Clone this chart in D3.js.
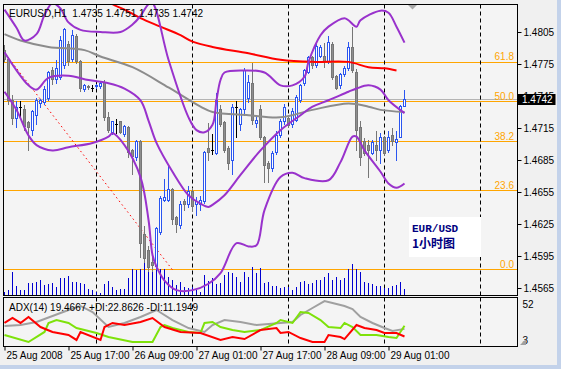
<!DOCTYPE html>
<html>
<head>
<meta charset="utf-8">
<script src="https://cdn.jsdelivr.net/npm/d3@7"></script>
<style>
html, body { margin: 0; padding: 0; background: #f0f0f0; }
svg { display: block; font-family: "Liberation Sans", Arial, sans-serif; }
</style>
</head>
<body>
<svg id="chart" width="561" height="369"></svg>
<script>
// EURUSD H1, 25-29 Aug 2008
const titleText = 'EURUSD,H1  1.4735 1.4751 1.4735 1.4742'
const adxText = 'ADX(14) 19.4667 +DI:22.8626 -DI:11.1949'
const startTime = new Date(2008, 7, 25, 1)

// [open, high, low, close] per hourly bar
const candles = [
    [1.4788, 1.4793, 1.4777, 1.4779], [1.4779, 1.4782, 1.4737, 1.4741], [1.4741, 1.4746, 1.4718, 1.4724],
    [1.4724, 1.4741, 1.4715, 1.4734], [1.4734, 1.4741, 1.4725, 1.4734], [1.4732, 1.4737, 1.4713, 1.4716],
    [1.4720, 1.4722, 1.4694, 1.4715], [1.4713, 1.4732, 1.4708, 1.4730], [1.4727, 1.4744, 1.4718, 1.4741],
    [1.4738, 1.4743, 1.4734, 1.4741], [1.4739, 1.4755, 1.4737, 1.4751], [1.4743, 1.4769, 1.4741, 1.4767],
    [1.4769, 1.4773, 1.4756, 1.4760], [1.4760, 1.4779, 1.4757, 1.4771], [1.4762, 1.4802, 1.4760, 1.4797],
    [1.4774, 1.4809, 1.4771, 1.4807], [1.4793, 1.4797, 1.4774, 1.4777], [1.4779, 1.4807, 1.4777, 1.4802],
    [1.4801, 1.4804, 1.4775, 1.4777], [1.4777, 1.4779, 1.4749, 1.4752], [1.4751, 1.4757, 1.4749, 1.4755],
    [1.4754, 1.4756, 1.4751, 1.4753], [1.4752, 1.4756, 1.4749, 1.4752], [1.4754, 1.4757, 1.4752, 1.4755],
    [1.4754, 1.4759, 1.4752, 1.4757], [1.4758, 1.4760, 1.4722, 1.4725], [1.4725, 1.4730, 1.4711, 1.4713],
    [1.4711, 1.4722, 1.4709, 1.4721], [1.4718, 1.4724, 1.4710, 1.4718], [1.4721, 1.4722, 1.4710, 1.4711],
    [1.4709, 1.4718, 1.4707, 1.4716], [1.4715, 1.4717, 1.4687, 1.4692], [1.4694, 1.4696, 1.4671, 1.4688],
    [1.4687, 1.4704, 1.4685, 1.4702], [1.4702, 1.4704, 1.4594, 1.4607], [1.4615, 1.4624, 1.4589, 1.4593],
    [1.4600, 1.4605, 1.4580, 1.4584], [1.4589, 1.4596, 1.4580, 1.4586], [1.4585, 1.4623, 1.4582, 1.4621],
    [1.4617, 1.4652, 1.4615, 1.4649], [1.4647, 1.4668, 1.4646, 1.4650], [1.4647, 1.4680, 1.4646, 1.4657],
    [1.4657, 1.4659, 1.4625, 1.4629], [1.4631, 1.4633, 1.4617, 1.4625], [1.4624, 1.4647, 1.4621, 1.4643],
    [1.4646, 1.4649, 1.4638, 1.4643], [1.4643, 1.4661, 1.4640, 1.4655], [1.4655, 1.4659, 1.4638, 1.4641],
    [1.4643, 1.4651, 1.4633, 1.4646], [1.4643, 1.4652, 1.4638, 1.4647], [1.4646, 1.4694, 1.4644, 1.4692],
    [1.4696, 1.4720, 1.4685, 1.4692], [1.4694, 1.4710, 1.4690, 1.4694], [1.4691, 1.4748, 1.4690, 1.4741],
    [1.4732, 1.4737, 1.4716, 1.4718], [1.4720, 1.4722, 1.4692, 1.4694], [1.4696, 1.4699, 1.4676, 1.4682],
    [1.4685, 1.4738, 1.4671, 1.4734], [1.4734, 1.4741, 1.4706, 1.4734], [1.4718, 1.4734, 1.4713, 1.4732],
    [1.4732, 1.4772, 1.4727, 1.4769], [1.4743, 1.4765, 1.4739, 1.4758], [1.4757, 1.4776, 1.4718, 1.4722],
    [1.4719, 1.4727, 1.4715, 1.4722], [1.4732, 1.4737, 1.4704, 1.4706], [1.4706, 1.4708, 1.4664, 1.4680],
    [1.4682, 1.4685, 1.4664, 1.4677], [1.4677, 1.4694, 1.4674, 1.4691], [1.4692, 1.4713, 1.4690, 1.4708],
    [1.4708, 1.4724, 1.4706, 1.4721], [1.4721, 1.4738, 1.4718, 1.4734], [1.4724, 1.4727, 1.4715, 1.4717],
    [1.4718, 1.4734, 1.4715, 1.4730], [1.4722, 1.4746, 1.4721, 1.4744], [1.4741, 1.4757, 1.4739, 1.4755],
    [1.4757, 1.4771, 1.4755, 1.4769], [1.4767, 1.4783, 1.4766, 1.4781], [1.4781, 1.4783, 1.4771, 1.4774],
    [1.4774, 1.4794, 1.4772, 1.4791], [1.4782, 1.4793, 1.4781, 1.4790], [1.4782, 1.4795, 1.4772, 1.4777],
    [1.4777, 1.4802, 1.4775, 1.4795], [1.4793, 1.4796, 1.4760, 1.4762], [1.4763, 1.4765, 1.4751, 1.4752],
    [1.4755, 1.4767, 1.4752, 1.4765], [1.4765, 1.4774, 1.4763, 1.4771], [1.4771, 1.4796, 1.4769, 1.4790],
    [1.4790, 1.4810, 1.4767, 1.4769], [1.4767, 1.4771, 1.4694, 1.4713], [1.4715, 1.4722, 1.4680, 1.4687],
    [1.4702, 1.4706, 1.4689, 1.4691], [1.4699, 1.4704, 1.4669, 1.4694], [1.4691, 1.4704, 1.4690, 1.4701],
    [1.4699, 1.4713, 1.4685, 1.4694], [1.4694, 1.4711, 1.4682, 1.4706], [1.4706, 1.4708, 1.4689, 1.4691],
    [1.4694, 1.4713, 1.4692, 1.4706], [1.4708, 1.4715, 1.4699, 1.4702], [1.4701, 1.4713, 1.4685, 1.4704],
    [1.4706, 1.4737, 1.4706, 1.4735], [1.4735, 1.4751, 1.4735, 1.4742]
]

// tick volume per bar
const volumes = [
    150, 250, 1150, 450, 250, 250, 600, 600, 650, 750,
    500, 550, 600, 400, 850, 850, 950, 650, 650, 600,
    550, 300, 250, 150, 100, 550, 700, 400, 250, 300,
    300, 850, 1300, 1250, 1300, 1800, 1150, 1250, 1300, 1300,
    1300, 900, 750, 500, 650, 400, 350, 400, 250, 150,
    1000, 700, 850, 550, 600, 1000, 1150, 1100, 900, 650,
    1150, 900, 1400, 1100, 1350, 600, 650, 450, 450, 350,
    400, 400, 250, 400, 650, 700, 550, 600, 750, 750,
    900, 1100, 750, 900, 750, 850, 1300, 1550, 1300, 1150,
    650, 600, 550, 450, 450, 350, 350, 450, 500, 650, 300
]

// indicator lines, [bar, value] read at their turning points
const bbUpper = [[0, 1.4826], [3, 1.4809], [5, 1.4797], [8, 1.4803], [10, 1.4821], [12, 1.4832], [14, 1.4827],
    [16, 1.4814], [19, 1.4807], [24, 1.4805], [29, 1.4805], [32, 1.4812], [34, 1.4820], [36, 1.4831], [37, 1.4832],
    [41, 1.4779], [46, 1.4725], [48, 1.4713], [50, 1.4711], [52, 1.4718], [53, 1.4741], [54, 1.4760], [55, 1.4767],
    [60, 1.4769], [65, 1.4767], [69, 1.4755], [72, 1.4755], [75, 1.4763], [76, 1.4777], [79, 1.4802], [81, 1.4810],
    [85, 1.4818], [86, 1.4816], [88, 1.4810], [89, 1.4816], [94, 1.4825], [96, 1.4823], [98, 1.4810], [100, 1.4795]]
const bbMiddle = [[0, 1.4786], [3, 1.4769], [6, 1.4755], [8, 1.4751], [11, 1.4762], [16, 1.4764], [21, 1.4760],
    [26, 1.4757], [30, 1.4752], [34, 1.4741], [36, 1.4722], [38, 1.4701], [42, 1.4674], [46, 1.4652], [49, 1.4644],
    [51, 1.4641], [52, 1.4643], [55, 1.4652], [59, 1.4671], [64, 1.4694], [69, 1.4713], [74, 1.4727], [77, 1.4735],
    [81, 1.4741], [86, 1.4749], [88, 1.4752], [91, 1.4755], [94, 1.4751], [96, 1.4741], [100, 1.4729]]
const bbLower = [[0, 1.4749], [3, 1.4732], [6, 1.4708], [8, 1.4699], [12, 1.4694], [16, 1.4697], [22, 1.4701],
    [26, 1.4707], [27, 1.4710], [30, 1.4699], [34, 1.4669], [36, 1.4629], [37, 1.4596], [38, 1.4585], [40, 1.4572],
    [43, 1.4563], [47, 1.4563], [51, 1.4569], [54, 1.4579], [58, 1.4607], [61, 1.4604], [63, 1.4605], [65, 1.4638],
    [69, 1.4669], [72, 1.4673], [75, 1.4668], [81, 1.4666], [84, 1.4683], [87, 1.4707], [88, 1.4707], [90, 1.4694],
    [94, 1.4674], [96, 1.4663], [98, 1.4659], [100, 1.4663]]
const maGray = [[0, 1.4803], [4, 1.4797], [11, 1.4791], [20, 1.4788], [24, 1.4782], [32, 1.4772], [41, 1.4753],
    [49, 1.4735], [52, 1.4730], [61, 1.4727], [69, 1.4725], [77, 1.4732], [86, 1.4738], [91, 1.4735], [94, 1.4732],
    [100, 1.4730]]
const maRed = [[24, 1.4840], [27, 1.4831], [30, 1.4826], [34, 1.4818], [39, 1.4810], [44, 1.4802], [47, 1.4796],
    [52, 1.4791], [61, 1.4785], [69, 1.4779], [77, 1.4777], [86, 1.4777], [91, 1.4772], [95, 1.4771], [98, 1.4769]]

const adxLine = [[0, 22.6], [4, 23.7], [8, 27.0], [12, 33.5], [16, 40.0], [19, 44.4], [22, 37.8], [26, 21.5],
    [30, 25.9], [34, 32.4], [38, 40.0], [42, 29.1], [46, 20.4], [50, 16.1], [52, 23.7], [55, 29.1], [59, 27.0],
    [63, 23.7], [69, 25.9], [72, 27.0], [74, 34.6], [77, 42.2], [80, 49.8], [82, 47.6], [85, 44.4], [87, 41.1],
    [89, 32.4], [92, 25.9], [95, 20.4], [97, 17.2], [100, 19.4667]]
const plusDI = [[0, 12.8], [6, 5.2], [10, 16.1], [11, 25.9], [13, 29.1], [16, 25.9], [18, 20.4], [23, 15.0],
    [26, 10.6], [32, 5.2], [37, 5.2], [39, 21.5], [40, 23.7], [42, 20.4], [46, 16.1], [49, 15.0], [50, 25.9],
    [52, 27.0], [54, 21.5], [57, 18.2], [60, 16.1], [64, 18.2], [68, 25.9], [69, 29.1], [72, 25.9], [74, 37.8],
    [76, 36.8], [79, 29.1], [81, 21.5], [84, 20.4], [85, 25.9], [87, 21.5], [89, 12.8], [93, 12.8], [96, 10.6],
    [98, 9.5], [100, 22.8626]]
const minusDI = [[0, 25.9], [2, 31.3], [4, 25.9], [6, 32.4], [9, 21.5], [12, 16.1], [16, 12.8], [18, 7.4],
    [19, 16.1], [24, 7.4], [25, 21.5], [27, 25.9], [30, 23.7], [34, 27.0], [37, 31.3], [40, 21.5], [44, 16.1],
    [49, 15.0], [54, 7.4], [57, 10.6], [60, 8.4], [64, 18.2], [68, 20.4], [69, 15.0], [71, 16.1], [74, 9.5],
    [77, 5.2], [80, 5.2], [81, 12.8], [84, 10.6], [85, 8.4], [88, 23.7], [90, 20.4], [93, 18.2], [95, 15.0],
    [98, 15.0], [100, 11.1949]]

// fibonacci retracement anchors and levels
const fibAnchors = [[-23, 1.4897], [42, 1.4582]]
const fibLevels = [0, 23.6, 38.2, 50.0, 61.8]
const bidPrice = 1.4742

const priceTicks = [1.4805, 1.4775, 1.4745, 1.4715, 1.4685, 1.4655, 1.4625, 1.4595, 1.4565]
const timeTickBars = [0, 16, 32, 48, 64, 80, 96]
const separatorBars = [23, 47, 71, 95, 119]
const adxLabels = [52, 3]
const noteLines = ['EUR/USD', '1小时图']

// ---------------------------------------------------------------
const svg = d3.select('#chart')
const main = { left: 3.5, top: 4.5, right: 517.5, bottom: 295.5 }
const sub = { left: 3.5, top: 297.5, right: 517.5, bottom: 346.5 }
const labelFont = '"Liberation Sans", Arial, sans-serif'

const barTime = i => new Date(startTime.getTime() + i * 36e5)
const x = d3.scaleTime()
    .domain([barTime(0), barTime(128)])
    .range([4.5, 4.5 + 128 * 4])
const bx = i => x(barTime(i))
const y = d3.scaleLinear().domain([1.4565, 1.4805]).range([288, 32])
const yVol = d3.scaleLinear().domain([0, 1800]).range([295, 259])
const yAdx = d3.scaleLinear().domain([3, 52]).range([344, 299])
const snap = v => Math.round(v - 0.5) + 0.5

// window background and frame
svg.append('rect').attr('width', 561).attr('height', 369).attr('fill', '#f0f0f0')
svg.append('rect').attr('x', 557).attr('width', 4).attr('height', 369).attr('fill', '#c3d2ea')
svg.append('rect').attr('y', 365).attr('width', 561).attr('height', 4).attr('fill', '#c3d2ea')

const defs = svg.append('defs')
defs.append('clipPath').attr('id', 'clipMain').append('rect')
    .attr('x', main.left + 0.5).attr('y', main.top + 0.5)
    .attr('width', main.right - main.left - 1).attr('height', main.bottom - main.top - 1)
defs.append('clipPath').attr('id', 'clipSub').append('rect')
    .attr('x', sub.left + 0.5).attr('y', sub.top + 0.5)
    .attr('width', sub.right - sub.left - 1).attr('height', sub.bottom - sub.top - 1)

for (const p of [main, sub]) {
    svg.append('rect')
        .attr('x', p.left).attr('y', p.top)
        .attr('width', p.right - p.left).attr('height', p.bottom - p.top)
        .attr('fill', '#f4f4f4')
}

const gMain = svg.append('g').attr('clip-path', 'url(#clipMain)')
const gSub = svg.append('g').attr('clip-path', 'url(#clipSub)')

// fibo levels
const fibHigh = fibAnchors[0][1], fibLow = fibAnchors[1][1]
const fibPrice = lvl => fibLow + (fibHigh - fibLow) * lvl / 100
gMain.selectAll('line.fib')
    .data(fibLevels)
    .enter()
    .append('line')
    .attr('class', 'fib')
    .attr('x1', main.left).attr('x2', main.right)
    .attr('y1', d => snap(y(fibPrice(d)))).attr('y2', d => snap(y(fibPrice(d))))
    .attr('stroke', '#ffa500')

// bid line
gMain.append('line')
    .attr('x1', main.left).attr('x2', main.right)
    .attr('y1', snap(y(bidPrice))).attr('y2', snap(y(bidPrice)))
    .attr('stroke', '#b4b4b4')

// day separators in both panes
for (const [g, p] of [[gMain, main], [gSub, sub]]) {
    g.selectAll('line.sep')
        .data(separatorBars)
        .enter()
        .append('line')
        .attr('class', 'sep')
        .attr('x1', d => bx(d)).attr('x2', d => bx(d))
        .attr('y1', p.top).attr('y2', p.bottom)
        .attr('stroke', '#000')
        .attr('stroke-dasharray', '4,3')
}

// volumes
gMain.selectAll('line.vol')
    .data(volumes)
    .enter()
    .append('line')
    .attr('class', 'vol')
    .attr('x1', (d, i) => bx(i)).attr('x2', (d, i) => bx(i))
    .attr('y1', yVol(0)).attr('y2', d => yVol(d))
    .attr('stroke', '#0000d0')

// fibo trend line
gMain.append('line')
    .attr('x1', bx(fibAnchors[0][0])).attr('y1', y(fibAnchors[0][1]))
    .attr('x2', bx(fibAnchors[1][0])).attr('y2', y(fibAnchors[1][1]))
    .attr('stroke', '#ff0000')
    .attr('stroke-dasharray', '1.5,3')

// candles
const bullColor = '#2a55f0', bearFill = '#8e8e8e', bearStroke = '#767676'
const cg = gMain.append('g').attr('shape-rendering', 'crispEdges')
candles.forEach(([o, h, l, c], i) => {
    const cx = bx(i)
    const doji = o === c
    const col = doji ? '#000' : (c > o ? bullColor : bearStroke)
    cg.append('line')
        .attr('x1', cx).attr('x2', cx)
        .attr('y1', snap(y(h))).attr('y2', snap(y(l)))
        .attr('stroke', col)
    if (doji) {
        cg.append('line')
            .attr('x1', cx - 1.5).attr('x2', cx + 1.5)
            .attr('y1', snap(y(o))).attr('y2', snap(y(o)))
            .attr('stroke', '#000')
    } else {
        const top = snap(y(Math.max(o, c))), bot = snap(y(Math.min(o, c)))
        cg.append('rect')
            .attr('x', cx - 1).attr('y', top)
            .attr('width', 2).attr('height', Math.max(bot - top, 1))
            .attr('fill', c > o ? '#ffffff' : bearFill)
            .attr('stroke', col)
    }
})

// moving averages and bands
const priceLine = d3.line()
    .x(d => bx(d[0]))
    .y(d => y(d[1]))
    .curve(d3.curveCatmullRom.alpha(0.5))
const lines = [
    [maGray, '#8c8c8c'],
    [maRed, '#ff0000'],
    [bbUpper, '#9932cc'],
    [bbMiddle, '#9932cc'],
    [bbLower, '#9932cc']
]
gMain.selectAll('path.ind')
    .data(lines)
    .enter()
    .append('path')
    .attr('class', 'ind')
    .attr('d', d => priceLine(d[0]))
    .attr('fill', 'none')
    .attr('stroke', d => d[1])
    .attr('stroke-width', 2)
    .attr('stroke-linejoin', 'round')

// fibo level labels
svg.selectAll('text.fib')
    .data(fibLevels)
    .enter()
    .append('text')
    .attr('class', 'fib')
    .attr('x', 514).attr('y', d => y(fibPrice(d)) - 2)
    .attr('text-anchor', 'end')
    .attr('font-size', 10)
    .attr('fill', '#ffa500')
    .text(d => d.toFixed(1))

// note box
svg.append('rect')
    .attr('x', 409).attr('y', 217).attr('width', 72).attr('height', 40)
    .attr('fill', '#ffffff')
svg.append('text')
    .attr('x', 412).attr('y', 232)
    .attr('font-family', '"Liberation Mono", "DejaVu Sans Mono", monospace')
    .attr('font-weight', 'bold').attr('font-size', 11)
    .attr('fill', '#000080')
    .text(noteLines[0])
svg.append('text')
    .attr('x', 412).attr('y', 248)
    .attr('font-family', '"Noto Sans CJK SC", sans-serif')
    .attr('font-weight', 'bold').attr('font-size', 12)
    .attr('fill', '#000080')
    .text(noteLines[1])

// shift marker
svg.append('path')
    .attr('d', 'M408,5 L417,5 L412.5,9.5 Z')
    .attr('fill', '#a8a8a8')

// titles
svg.append('text').attr('x', 9).attr('y', 17).attr('font-size', 10).attr('fill', '#000')
    .style('white-space', 'pre').text(titleText)

// ADX pane
const adxPath = d3.line().x(d => bx(d[0])).y(d => yAdx(d[1]))
const adxSeries = [[adxLine, '#a0a0a0'], [plusDI, '#7ee20a'], [minusDI, '#ff0000']]
gSub.selectAll('path.adx')
    .data(adxSeries)
    .enter()
    .append('path')
    .attr('class', 'adx')
    .attr('d', d => adxPath(d[0]))
    .attr('fill', 'none')
    .attr('stroke', d => d[1])
    .attr('stroke-width', 2)
svg.append('text').attr('x', 9).attr('y', 311).attr('font-size', 10).attr('fill', '#000').text(adxText)

// pane borders
for (const p of [main, sub]) {
    svg.append('rect')
        .attr('x', p.left).attr('y', p.top)
        .attr('width', p.right - p.left).attr('height', p.bottom - p.top)
        .attr('fill', 'none').attr('stroke', '#000')
}

// price axis
const priceAxis = d3.axisRight(y)
    .tickValues(priceTicks)
    .tickSize(4)
    .tickPadding(2)
    .tickFormat(d3.format('.4f'))
svg.append('g')
    .attr('transform', `translate(${main.right},0)`)
    .call(priceAxis)
    .call(g => g.select('.domain').remove())
    .call(g => g.selectAll('text').attr('fill', '#000').attr('font-size', 10)
        .attr('font-family', labelFont))

// bid label
svg.append('rect')
    .attr('x', main.right).attr('y', snap(y(bidPrice)) - 5.5)
    .attr('width', 38).attr('height', 11)
    .attr('fill', '#000')
svg.append('text')
    .attr('x', 522).attr('y', y(bidPrice) + 4)
    .attr('font-size', 10).attr('fill', '#fff')
    .text(d3.format('.4f')(bidPrice))

// ADX scale labels, drawn just inside the pane's value range
const adxAxis = d3.axisRight(yAdx).tickValues(adxLabels).tickSize(0).tickPadding(5)
svg.append('g')
    .attr('transform', `translate(${sub.right},0)`)
    .call(adxAxis)
    .call(g => g.select('.domain').remove())
    .call(g => g.selectAll('text').attr('fill', '#000').attr('font-size', 10)
        .attr('font-family', labelFont)
        .attr('dy', d => d === 52 ? '0.85em' : '-0.1em'))

// size grip in the corner
svg.append('path')
    .attr('d', 'M520,345 L526,345 L526,339 Z')
    .attr('fill', '#a0a0a0')

// time axis
const fmtFirst = d3.timeFormat('%d %b %Y'), fmtTime = d3.timeFormat('%d %b %H:%M')
const timeAxis = d3.axisBottom(x)
    .tickValues(timeTickBars.map(barTime))
    .tickSize(4)
    .tickFormat((d, i) => i === 0 ? fmtFirst(d) : fmtTime(d))
svg.append('g')
    .attr('transform', `translate(0,${sub.bottom})`)
    .call(timeAxis)
    .call(g => g.select('.domain').remove())
    .call(g => g.selectAll('text')
        .attr('text-anchor', 'start')
        .attr('x', 1.5).attr('y', 12.5).attr('dy', 0)
        .attr('fill', '#000').attr('font-size', 10)
        .attr('font-family', labelFont))
</script>
</body>
</html>
